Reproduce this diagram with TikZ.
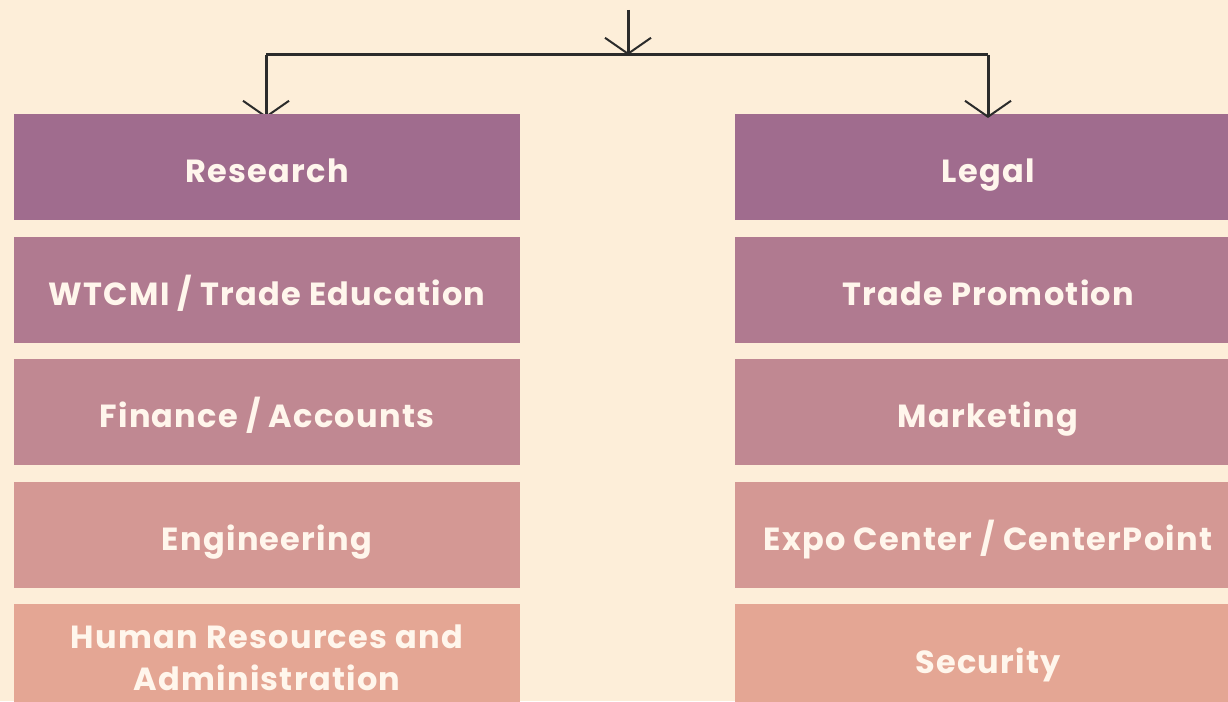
\documentclass[tikz,border=0pt]{standalone}
\usepackage{fontspec}
\setmainfont{Poppins}[LetterSpace=4]
\usetikzlibrary{arrows.meta}
\definecolor{bg}{HTML}{FDEED9}
\definecolor{c1}{HTML}{A06C8E}
\definecolor{c2}{HTML}{B07A90}
\definecolor{c3}{HTML}{C08892}
\definecolor{c4}{HTML}{D49894}
\definecolor{c5}{HTML}{E4A694}
\definecolor{ink}{HTML}{2B2B2B}
\definecolor{txt}{HTML}{FFF6EC}
\tikzset{
  box/.style={rectangle, inner sep=0pt, minimum width=506pt, minimum height=106pt,
    text=txt, font=\fontsize{32}{42}\selectfont\bfseries, align=center,
    text height=30pt, text depth=0pt},
  conn/.style={draw=ink, line width=3pt},
  tip/.style={-{Straight Barb[length=16pt,width=46pt,line width=2pt]}}
}
\begin{document}
\begin{tikzpicture}[x=1pt,y=-1pt]
\useasboundingbox (0,0) rectangle (1228,701);
\clip (0,0) rectangle (1228,701);
\fill[bg] (0,0) rectangle (1228,701);
\coordinate (top) at (628,10);
\coordinate (mid) at (628,55);
\coordinate (lc) at (266,55);
\coordinate (rc) at (988,55);
\coordinate (lt) at (266,118);
\coordinate (rt) at (988,118);
\draw[conn,tip] (top) -- (mid);
\draw[conn] (lc) -- (rc);
\draw[conn,tip] (lc) -- (lt);
% left column
\node[box,fill=c1] (research) at (267,167) {Research};
\node[box,fill=c2] (wtcmi) at (267,290) {WTCMI / Trade Education};
\node[box,fill=c3] (finance) at (267,412) {Finance / Accounts};
\node[box,fill=c4] (eng) at (267,535) {Engineering};
\node[box,fill=c5,minimum height=108pt,text height=,text depth=] (hr) at (267,658) {Human Resources and\\Administration};
% right column
\node[box,fill=c1] (legal) at (988,167) {Legal};
\node[box,fill=c2] (trade) at (988,290) {Trade Promotion};
\node[box,fill=c3] (mkt) at (988,412) {Marketing};
\node[box,fill=c4] (expo) at (988,535) {Expo Center / CenterPoint};
\node[box,fill=c5,minimum height=108pt] (sec) at (988,658) {Security};
\draw[conn,tip] (rc) -- (rt);
\end{tikzpicture}
\end{document}
